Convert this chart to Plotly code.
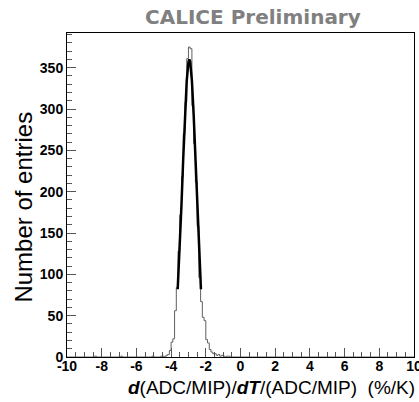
import numpy as np
import plotly.graph_objects as go

# ---------------- data ----------------
bin_width = 0.1
core_start = -4.6
core_counts = [1, 1, 0, 2, 3, 8, 18, 22, 56, 84,
               128, 172, 218, 270, 308, 361, 375, 373, 304, 258,
               212, 158, 96, 67, 48, 44, 21, 17, 9, 6,
               4, 4, 2, 3, 1, 2, 1, 0, 1, 1, 0]
outlier_lo = [-8.4, -6.9, -5.1]
outlier_counts = [1, 1, 1]

fit_x = [-3.62, -3.5, -3.4, -3.3, -3.2, -3.1, -3.0, -2.95, -2.9, -2.8, -2.7, -2.6, -2.5, -2.4, -2.28]
fit_y = [82, 133, 185, 241, 293, 334, 357, 360, 357, 334, 293, 241, 185, 133, 82]

x_tickvals = [-10, -8, -6, -4, -2, 0, 2, 4, 6, 8, 10]
x_ticktext = ["-10", "-8", "-6", "-4", "-2", "0", "2", "4", "6", "8", "10"]
y_tickvals = [0, 50, 100, 150, 200, 250, 300, 350]
y_ticktext = ["0", "50", "100", "150", "200", "250", "300", "350"]

# ---------------- build step outline ----------------
nbins = 200
lo = -10.0
counts = np.zeros(nbins)
i0 = int(round((core_start - lo) / bin_width))
counts[i0:i0 + len(core_counts)] = core_counts
for xl, c in zip(outlier_lo, outlier_counts):
    counts[int(round((xl - lo) / bin_width))] = c
edges = lo + bin_width * np.arange(nbins + 1)
hx = np.concatenate([[edges[0]], edges[:-1], [edges[-1]]])
hy = np.concatenate([[0], counts, [0]])

fig = go.Figure()
fig.add_trace(go.Scatter(x=hx, y=hy, mode="lines",
                         line=dict(shape="hv", color="#606060", width=1),
                         hoverinfo="skip"))
fig.add_trace(go.Scatter(x=fit_x, y=fit_y, mode="lines",
                         line=dict(color="black", width=2.5),
                         hoverinfo="skip"))

tickfont = dict(family="Liberation Sans", size=14, color="black", weight="bold")

fig.update_layout(
    template="none",
    width=419, height=402,
    margin=dict(l=67, r=5, t=33, b=45, autoexpand=False),
    paper_bgcolor="white", plot_bgcolor="white",
    showlegend=False,
    xaxis=dict(range=[-10, 10], tickvals=x_tickvals, ticktext=x_ticktext,
               automargin=False, ticklabeloverflow="allow",
               ticks="inside", ticklen=9, tickwidth=1, tickcolor="#555",
               minor=dict(ticks="inside", ticklen=5, dtick=0.5, tickcolor="#555", tickwidth=1),
               showline=True, linecolor="black", linewidth=1, mirror=True,
               showgrid=False, zeroline=False, tickfont=tickfont,
               ticklabelstandoff=-4),
    yaxis=dict(range=[0, 392], tickvals=y_tickvals, ticktext=y_ticktext,
               automargin=False,
               ticks="inside", ticklen=9, tickwidth=1, tickcolor="#555",
               minor=dict(ticks="inside", ticklen=5, dtick=10, tickcolor="#555", tickwidth=1),
               showline=True, linecolor="black", linewidth=1, mirror=True,
               showgrid=False, zeroline=False, tickfont=tickfont),
    annotations=[
        dict(text="<b>CALICE Preliminary</b>", xref="paper", yref="paper",
             x=0.537, y=1.049, xanchor="center", yanchor="middle", showarrow=False,
             font=dict(family="DejaVu Sans", size=20, color="#808080")),
        dict(text="<b><i>d</i></b>(ADC/MIP)/<b><i>dT</i></b>/(ADC/MIP)\u00a0\u00a0(%/K)",
             xref="paper", yref="paper", x=1.0086, y=-0.094,
             xanchor="right", yanchor="middle", showarrow=False,
             font=dict(family="Liberation Sans", size=19, color="black")),
        dict(text="Number of entries", xref="paper", yref="paper",
             x=-0.125, y=0.463, xanchor="center", yanchor="middle", showarrow=False,
             textangle=-90,
             font=dict(family="Liberation Sans", size=24, color="black")),
    ],
)

fig.write_html(
    "out.html",
    config={"displayModeBar": False},
    post_script="document.body.style.margin='0';document.body.style.overflow='hidden';",
)
